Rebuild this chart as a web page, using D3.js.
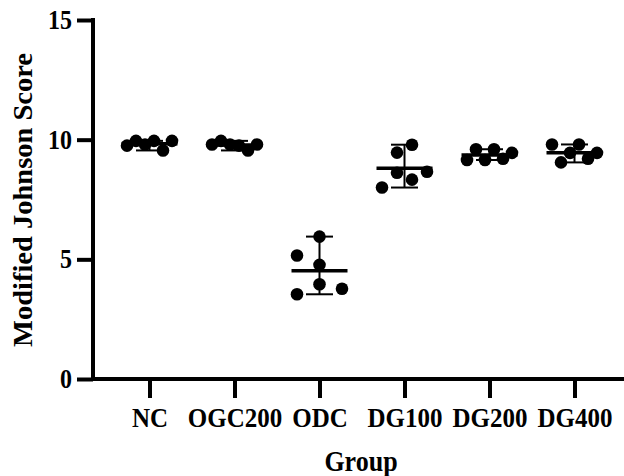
<!DOCTYPE html>
<html>
<head>
<meta charset="utf-8">
<script src="https://cdn.jsdelivr.net/npm/d3@7"></script>
<style>
  body { margin: 0; background: #fff; }
  text { font-family: "Liberation Serif", "Times New Roman", serif; font-weight: bold; fill: #000; }
</style>
</head>
<body>
<script>
// groups and scores (6 animals per group)
var groups = ["NC", "OGC200", "ODC", "DG100", "DG200", "DG400"];
var ncScores = [9.75, 9.95, 9.8, 9.95, 9.55, 9.95];
var ogc200Scores = [9.8, 9.95, 9.8, 9.75, 9.55, 9.8];
var odcScores = [5.95, 5.16, 4.77, 3.54, 3.96, 3.77];
var dg100Scores = [9.46, 9.79, 8.0, 8.62, 8.33, 8.66];
var dg200Scores = [9.15, 9.6, 9.15, 9.6, 9.2, 9.45];
var dg400Scores = [9.8, 9.05, 9.45, 9.8, 9.2, 9.45];
var yTicks = [0, 5, 10, 15];

var scores = [ncScores, ogc200Scores, odcScores, dg100Scores, dg200Scores, dg400Scores];

var width = 624,
    height = 476,
    axisX = 93,
    axisY = 379,
    stretch = 1.1;   // the original figure text is a little taller than wide

var svg = d3.select("body").append("svg")
    .attr("width", width)
    .attr("height", height);

var y = d3.scaleLinear().domain([0, 15]).range([axisY, 20]);
var x = d3.scalePoint().domain(groups).range([149.5, 574.5]);

// spread points that sit at similar heights into columns (like a column scatter)
function swarm(values) {
  var py = values.map(function(v) { return y(v); });
  var order = d3.range(values.length).sort(function(a, b) { return py[a] - py[b]; });
  var clusters = [], cur = [];
  order.forEach(function(i, k) {
    if (k > 0 && py[i] - py[order[k - 1]] >= 14) { clusters.push(cur); cur = []; }
    cur.push(i);
  });
  clusters.push(cur);
  var nmax = d3.max(clusters, function(c) { return c.length; });
  var step = nmax > 1 ? Math.min(22.5, 45 / (nmax - 1)) : 0;
  var off = [];
  clusters.forEach(function(c) {
    c.sort(function(a, b) { return a - b; });
    var start = Math.floor((nmax - c.length) / 2);
    c.forEach(function(i, j) { off[i] = (start + j - (nmax - 1) / 2) * step; });
  });
  return values.map(function(v, i) { return { v: v, dx: off[i] }; });
}

var summary = groups.map(function(g, i) {
  return { group: g, mean: d3.mean(scores[i]), min: d3.min(scores[i]), max: d3.max(scores[i]), pts: swarm(scores[i]) };
});

var grp = svg.selectAll(".grp")
  .data(summary)
  .enter().append("g")
    .attr("class", "grp")
    .attr("transform", function(d) { return "translate(" + x(d.group) + ",0)"; });

grp.selectAll("circle")
  .data(function(d) { return d.pts; })
  .enter().append("circle")
    .attr("cx", function(d) { return d.dx; })
    .attr("cy", function(d) { return y(d.v); })
    .attr("r", 6.3)
    .attr("fill", "#000");

// range bar
grp.append("line")
    .attr("x1", 0).attr("x2", 0)
    .attr("y1", function(d) { return y(d.min); })
    .attr("y2", function(d) { return y(d.max); })
    .attr("stroke", "#000").attr("stroke-width", 2);

grp.selectAll(".cap")
  .data(function(d) { return [d.min, d.max]; })
  .enter().append("line")
    .attr("class", "cap")
    .attr("x1", -13.5).attr("x2", 13.5)
    .attr("y1", function(d) { return y(d); })
    .attr("y2", function(d) { return y(d); })
    .attr("stroke", "#000").attr("stroke-width", 2);

// mean
grp.append("line")
    .attr("x1", -28).attr("x2", 28)
    .attr("y1", function(d) { return y(d.mean); })
    .attr("y2", function(d) { return y(d.mean); })
    .attr("stroke", "#000").attr("stroke-width", 3.5);

// axes
var yAxis = svg.append("g")
    .attr("transform", "translate(" + axisX + ",0)")
    .call(d3.axisLeft(y).tickValues(yTicks).tickSize(16).tickPadding(5));
yAxis.select(".domain").remove();
yAxis.selectAll(".tick line").attr("stroke-width", 4);
yAxis.selectAll(".tick text")
    .attr("font-family", null)
    .attr("font-size", 24)
    .attr("dy", "0.32em")
    .attr("transform", "scale(1," + stretch + ")");

var xAxis = svg.append("g")
    .attr("transform", "translate(0," + axisY + ")")
    .call(d3.axisBottom(x).tickSize(19).tickSizeOuter(0));
xAxis.select(".domain").remove();
xAxis.selectAll(".tick line").attr("stroke-width", 4);
xAxis.selectAll(".tick text")
    .attr("font-family", null)
    .attr("font-size", 25)
    .attr("y", 48 / stretch)
    .attr("dy", 0)
    .attr("transform", "scale(1," + stretch + ")");

svg.append("line")
    .attr("x1", axisX).attr("x2", axisX)
    .attr("y1", y(15) - 2).attr("y2", axisY + 2)
    .attr("stroke", "#000").attr("stroke-width", 4);

svg.append("line")
    .attr("x1", axisX - 2).attr("x2", width)
    .attr("y1", axisY).attr("y2", axisY)
    .attr("stroke", "#000").attr("stroke-width", 4);

svg.append("text")
    .attr("transform", "translate(361,471) scale(1," + stretch + ")")
    .attr("text-anchor", "middle")
    .attr("font-size", 26)
    .text("Group");

svg.append("text")
    .attr("transform", "translate(32,200) rotate(-90)")
    .attr("text-anchor", "middle")
    .attr("font-size", 27)
    .attr("textLength", 294)
    .attr("lengthAdjust", "spacingAndGlyphs")
    .text("Modified Johnson Score");
</script>
</body>
</html>
